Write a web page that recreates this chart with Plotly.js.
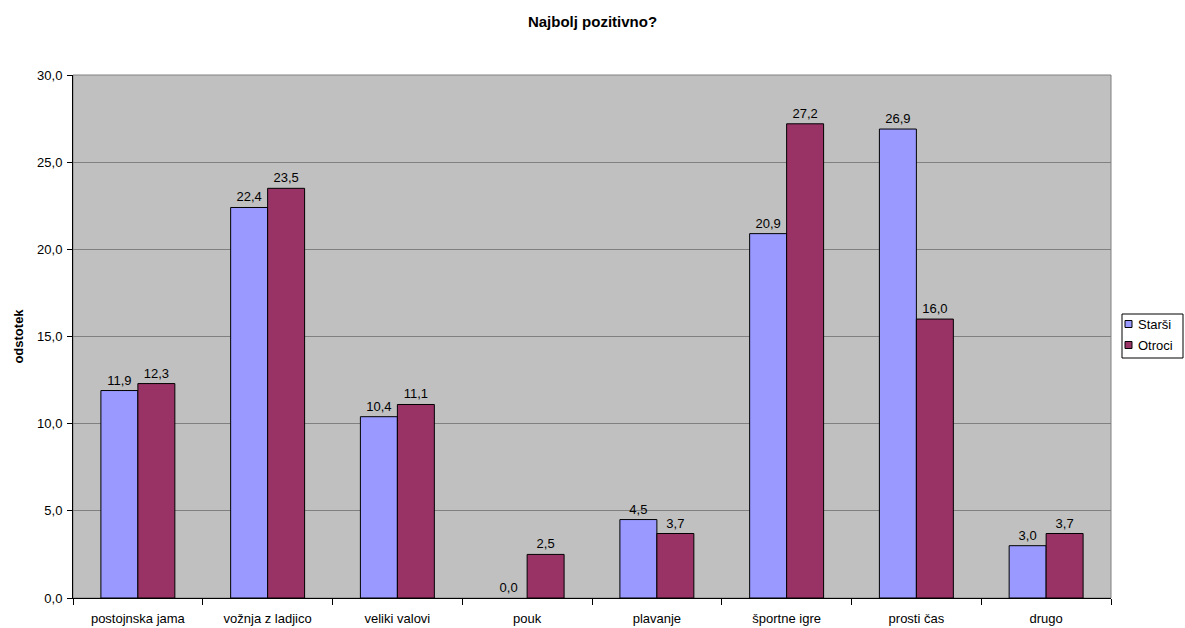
<!DOCTYPE html>
<html><head><meta charset="utf-8">
<script src="https://cdn.plot.ly/plotly-3.0.1.min.js"></script>
<style>html,body{margin:0;padding:0;background:#fff}#c{width:1185px;height:628px}</style>
</head><body><div id="c"></div>
<script>
const categories = ["postojnska jama","vožnja z ladjico","veliki valovi","pouk","plavanje","športne igre","prosti čas","drugo"];
const seriesNames = ["Starši", "Otroci"];
const starsi = [11.9, 22.4, 10.4, 0.0, 4.5, 20.9, 26.9, 3.0];
const otroci = [12.3, 23.5, 11.1, 2.5, 3.7, 27.2, 16.0, 3.7];
const colors = ['#9999FF', '#993366'];
const fmt = v => v.toFixed(1).replace('.', ',');
const fam = "Liberation Sans, Arial, sans-serif";
const font = {family: fam, size: 13, color: "#000"};
const mk = (name, y, color) => ({
  type: 'bar', name, x: categories, y,
  marker: {color, line: {color: '#000', width: y.map(v => v === 0 ? 0 : 1)}},
  text: y.map(fmt), textposition: 'outside', cliponaxis: false,
  textfont: font, hoverinfo: 'none', showlegend: false
});
const data = [mk(seriesNames[0], starsi, colors[0]), mk(seriesNames[1], otroci, colors[1])];

// custom legend (paper coords; plot area 73..1111 x, 75..598 y)
const px = x => (x - 73) / 1038;
const py = y => (598 - y) / 523;
const shapes = [
  {type: 'rect', xref: 'paper', yref: 'paper', x0: 0, x1: 1, y0: 0, y1: 1, line: {color: '#808080', width: 1}, layer: 'below'},
  {type: 'rect', xref: 'paper', yref: 'paper', x0: px(1122), x1: px(1183), y0: py(358), y1: py(314), line: {color: '#000', width: 1}, fillcolor: '#fff'}
];
const annotations = [];
const rowY = [324, 345];
seriesNames.forEach((n, i) => {
  shapes.push({type: 'rect', xref: 'paper', yref: 'paper', x0: px(1125), x1: px(1132), y0: py(rowY[i] + 3.5), y1: py(rowY[i] - 3.5), line: {color: '#000', width: 1}, fillcolor: colors[i]});
  annotations.push({xref: 'paper', yref: 'paper', x: px(1136), y: py(rowY[i]), xanchor: 'left', yanchor: 'middle', text: n, showarrow: false, font: font});
});

const layout = {
  width: 1185, height: 628,
  margin: {l: 73, r: 74, t: 75, b: 30},
  paper_bgcolor: '#fff', plot_bgcolor: '#C0C0C0',
  separators: ',.',
  font: font,
  title: {text: '<b>Najbolj pozitivno?</b>', x: 0.5, xanchor: 'center', y: 0.965, yanchor: 'middle', font: {family: fam, size: 15, color: '#000'}},
  bargap: 0.43, bargroupgap: 0,
  showlegend: false,
  xaxis: {
    type: 'category', showline: true, linecolor: '#000', linewidth: 1, mirror: false,
    ticks: 'outside', ticklen: 6, tickcolor: '#000', tickson: 'boundaries',
    ticklabelstandoff: 8,
    showgrid: false, tickfont: font, automargin: false
  },
  yaxis: {
    range: [0, 30], dtick: 5, tickformat: '.1f',
    showline: true, linecolor: '#000', linewidth: 1,
    ticks: 'outside', ticklen: 5, tickcolor: '#000',
    ticklabelstandoff: 2,
    showgrid: true, gridcolor: '#808080', gridwidth: 1, zeroline: false,
    tickfont: font, automargin: false,
    title: {text: '<b>odstotek</b>', standoff: 10, font: {family: fam, size: 13, color: '#000'}}
  },
  shapes, annotations
};
Plotly.newPlot('c', data, layout, {displayModeBar: false, staticPlot: true});
</script></body></html>
